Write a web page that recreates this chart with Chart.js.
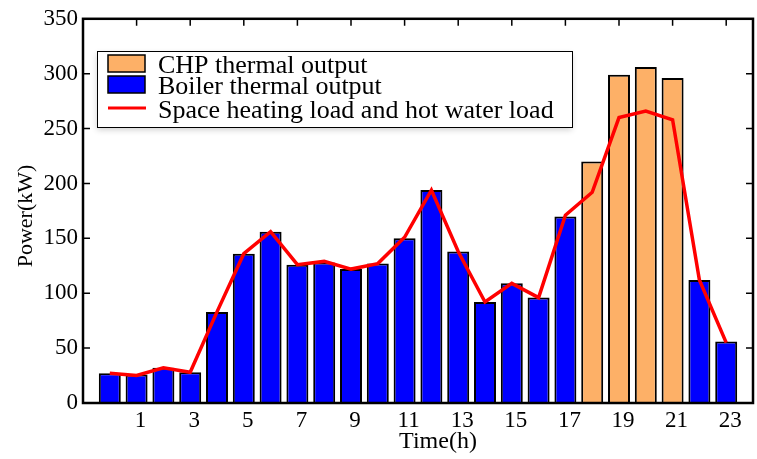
<!DOCTYPE html>
<html>
<head>
<meta charset="utf-8">
<title>CHP / Boiler</title>
<script src="https://cdn.jsdelivr.net/npm/chart.js@4.4.1/dist/chart.umd.min.js"></script>
<style>
  html, body { margin: 0; padding: 0; background: #fff; }
  #caja { position: relative; width: 757px; height: 459px; }
</style>
</head>
<body>
<div id="caja"><canvas id="grafica"></canvas></div>
<script>
// hora del dia (posicion de cada barra)
var horas = [0, 1, 2, 3, 4, 5, 6, 7, 8, 9, 10, 11, 12, 13, 14, 15, 16, 17, 18, 19, 20, 21, 22, 23];
// salida termica CHP (kW)
var chpTermica = [null, null, null, null, null, null, null, null, null, null, null, null,
                  null, null, null, null, null, null, 220, 299, 306, 296, null, null];
// salida termica caldera (kW)
var calderaTermica = [27, 26, 32, 28, 83, 136, 156, 126, 128, 122, 127, 150,
                      194, 138, 92, 109, 96, 170, null, null, null, null, 112, 56];
// carga de calefaccion + agua caliente (kW)
var cargaCalor = [27, 25, 32, 28, 83, 136, 156, 126, 129, 122, 127, 151,
                  194, 138, 92, 109, 96, 171, 192, 260, 266, 258, 112, 55];
var ticksX = [1, 3, 5, 7, 9, 11, 13, 15, 17, 19, 21, 23];
var ticksY = [0, 50, 100, 150, 200, 250, 300, 350];

var fuente = '"Liberation Serif", "Times New Roman", serif';

function puntos(valores) {
    return horas.map(function (h, i) { return { x: h, y: valores[i] }; });
}

/* marco con ticks hacia adentro + titulos de ejes */
var marco = {
    id: 'marco',
    afterDatasetsDraw: function (chart) {
        var ctx = chart.ctx, a = chart.chartArea;
        var sx = chart.scales.x, sy = chart.scales.y;
        ctx.save();
        ctx.strokeStyle = '#000';
        ctx.lineWidth = 1.5;
        ctx.beginPath();
        ticksY.forEach(function (v) {
            var y = sy.getPixelForValue(v);
            ctx.moveTo(a.left, y); ctx.lineTo(a.left + 7, y);
            ctx.moveTo(a.right, y); ctx.lineTo(a.right - 7, y);
        });
        ticksX.forEach(function (v) {
            var x = sx.getPixelForValue(v);
            ctx.moveTo(x, a.top); ctx.lineTo(x, a.top + 7);
        });
        ctx.stroke();
        ctx.lineWidth = 2.5;
        ctx.strokeRect(a.left, a.top, a.right - a.left, a.bottom - a.top);
        ctx.restore();
    },
    afterDraw: function (chart) {
        var ctx = chart.ctx;
        ctx.save();
        ctx.fillStyle = '#000';
        ctx.textAlign = 'center';
        ctx.textBaseline = 'alphabetic';
        ctx.font = '24px ' + fuente;
        ctx.fillText('Time(h)', 438, 448);
        ctx.font = '22px ' + fuente;
        ctx.translate(32, 216);
        ctx.rotate(-Math.PI / 2);
        ctx.fillText('Power(kW)', 0, 0);
        ctx.restore();
    }
};

/* leyenda dentro del area */
var leyenda = {
    id: 'leyenda',
    afterDraw: function (chart) {
        var ctx = chart.ctx;
        var ds = chart.data.datasets;
        var items = [ds[1], ds[2], ds[0]];
        var filas = [73, 94, 118];
        ctx.save();
        ctx.shadowColor = 'rgba(0,0,0,0.18)';
        ctx.shadowBlur = 6;
        ctx.shadowOffsetY = 3;
        ctx.fillStyle = '#fff';
        ctx.fillRect(97, 51, 475, 76);
        ctx.shadowColor = 'transparent';
        ctx.strokeStyle = '#000';
        ctx.lineWidth = 1;
        ctx.strokeRect(97.5, 51.5, 475, 76);
        ctx.font = '26px ' + fuente;
        ctx.textBaseline = 'alphabetic';
        items.forEach(function (d, i) {
            var yb = filas[i];
            if (d.type === 'bar') {
                ctx.fillStyle = d.backgroundColor;
                ctx.fillRect(108, yb - 18, 37, 17);
                ctx.lineWidth = 1.5;
                ctx.strokeStyle = '#000';
                ctx.strokeRect(108, yb - 18, 37, 17);
            } else {
                ctx.strokeStyle = d.borderColor;
                ctx.lineWidth = 3;
                ctx.beginPath();
                ctx.moveTo(108, yb - 10); ctx.lineTo(146, yb - 10);
                ctx.stroke();
            }
            ctx.fillStyle = '#000';
            ctx.fillText(d.label, 158, yb);
        });
        ctx.restore();
    }
};

var grafica = new Chart(document.getElementById('grafica'), {
    data: {
        datasets: [
            {
                type: 'line',
                label: 'Space heating load and hot water load',
                data: puntos(cargaCalor),
                borderColor: '#ff0000',
                borderWidth: 3.5,
                pointRadius: 0,
                fill: false,
                tension: 0,
                order: 0
            },
            {
                type: 'bar',
                label: 'CHP thermal output',
                data: puntos(chpTermica),
                backgroundColor: '#fdb067',
                borderColor: '#000',
                borderWidth: 2,
                grouped: false,
                barPercentage: 0.82,
                categoryPercentage: 1,
                order: 1
            },
            {
                type: 'bar',
                label: 'Boiler thermal output',
                data: puntos(calderaTermica),
                backgroundColor: '#0000ff',
                borderColor: '#000',
                borderWidth: 2,
                grouped: false,
                barPercentage: 0.82,
                categoryPercentage: 1,
                order: 2
            }
        ]
    },
    options: {
        responsive: true,
        maintainAspectRatio: false,
        animation: false,
        layout: { padding: { top: 14, right: 4, left: 0, bottom: 0 } },
        plugins: { legend: { display: false }, tooltip: { enabled: false } },
        scales: {
            x: {
                type: 'linear',
                min: -1,
                max: 24,
                offset: false,
                grid: { display: false, drawTicks: false, offset: false },
                border: { display: false },
                afterBuildTicks: function (s) {
                    s.ticks = ticksX.map(function (v) { return { value: v }; });
                },
                afterFit: function (s) { s.height = 56; },
                ticks: {
                    font: { family: fuente, size: 23 },
                    color: '#000',
                    padding: 4,
                    labelOffset: 4,
                    maxRotation: 0,
                    autoSkip: false,
                    callback: function (v) { return String(v); }
                }
            },
            y: {
                min: 0,
                max: 350,
                grid: { display: false, drawTicks: false },
                border: { display: false },
                afterBuildTicks: function (s) {
                    s.ticks = ticksY.map(function (v) { return { value: v }; });
                },
                afterFit: function (s) { s.width = 83; },
                ticks: {
                    font: { family: fuente, size: 23 },
                    color: '#000',
                    padding: 5,
                    callback: function (v) { return String(v); }
                }
            }
        }
    },
    plugins: [marco, leyenda]
});
</script>
</body>
</html>
